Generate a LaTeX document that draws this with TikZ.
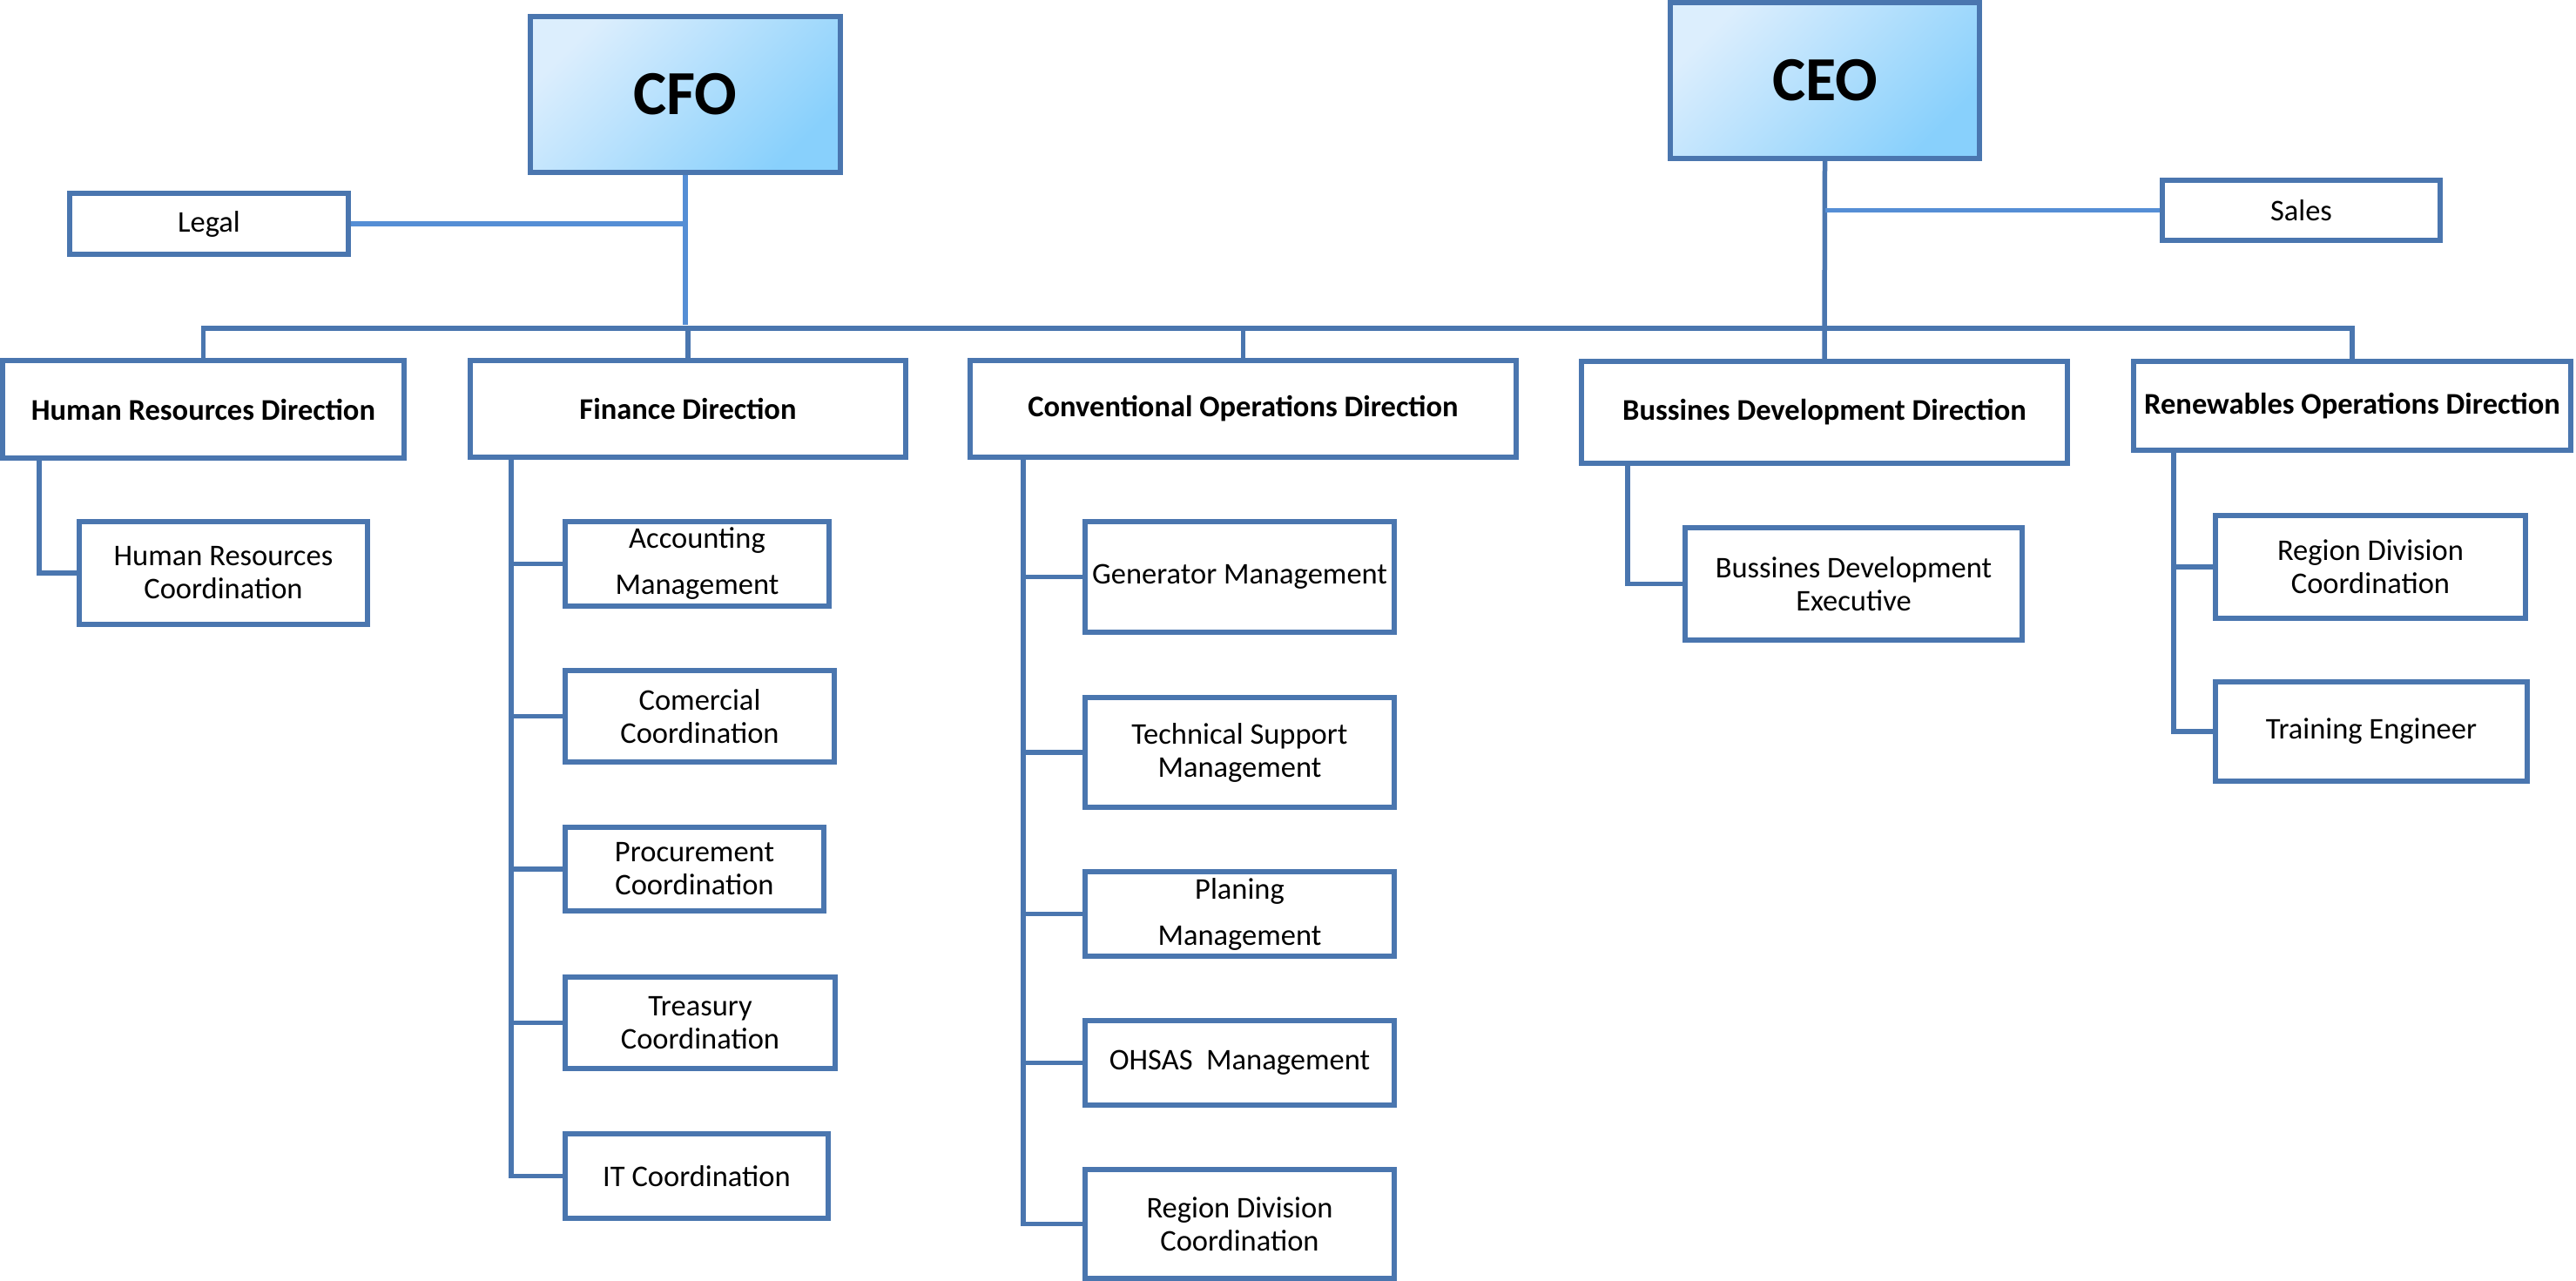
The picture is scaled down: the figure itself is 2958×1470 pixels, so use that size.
\documentclass[tikz,border=0pt]{standalone}
\usepackage{fontspec}
\setmainfont{Carlito}
\definecolor{bord}{HTML}{4A76AF}
\definecolor{lconn}{HTML}{558ED5}
\definecolor{gtop}{HTML}{DCEEFD}
\definecolor{gbot}{HTML}{88D0FC}
\tikzset{
  box/.style={draw=bord, line width=6pt, fill=white, inner sep=0pt, align=center,
    font=\fontsize{34.5}{38}\selectfont},
  dbox/.style={box, font=\fontsize{34.5}{38}\selectfont\bfseries},
  topbox/.style={draw=bord, line width=6pt, inner sep=0pt, align=center,
    left color=gtop, right color=gbot, shading angle=45,
    font=\fontsize{72}{80}\selectfont\bfseries},
  conn/.style={draw=bord, line width=5.5pt},
  lconnst/.style={draw=lconn, line width=5.5pt}
}
\begin{document}
\begin{tikzpicture}[x=1pt,y=-1pt]
\useasboundingbox[fill=white] (0,0) rectangle (2958,1470);
% top level
\node[topbox, minimum width=356pt, minimum height=179pt] (cfo) at (787,108.5) {CFO};
\node[topbox, minimum width=355pt, minimum height=179pt] (ceo) at (2095.5,92) {CEO};
\node[box, minimum width=320pt, minimum height=70pt] (legal) at (240,257) {Legal};
\node[box, minimum width=319pt, minimum height=69pt] (sales) at (2642.5,241.5) {Sales};
% directions
\node[dbox, minimum width=461pt, minimum height=112pt] (hr) at (233.5,470) {Human Resources Direction};
\node[dbox, minimum width=500pt, minimum height=111pt] (fin) at (790,469.5) {Finance Direction};
\node[dbox, minimum width=627pt, minimum height=111pt] (conv) at (1427.5,469.5) {Conventional Operations Direction};
\node[dbox, minimum width=558pt, minimum height=117pt] (bdd) at (2095,473.5) {Bussines Development Direction};
\node[dbox, minimum width=502pt, minimum height=102pt] (ren) at (2701,466) {Renewables Operations Direction};
% HR child
\node[box, minimum width=331pt, minimum height=118pt] (hrc) at (256.5,658) {Human Resources\\Coordination};
% finance children
\node[box, minimum width=303pt, minimum height=97pt] (acc) at (800.5,647.5) {Accounting\\[15pt]Management};
\node[box, minimum width=309pt, minimum height=105pt] (com) at (803.5,822.5) {Comercial\\Coordination};
\node[box, minimum width=297pt, minimum height=96pt] (pro) at (797.5,998) {Procurement\\Coordination};
\node[box, minimum width=310pt, minimum height=105pt] (tre) at (804,1174.5) {Treasury\\Coordination};
\node[box, minimum width=302pt, minimum height=97pt] (itc) at (800,1350.5) {IT Coordination};
% conventional children
\node[box, minimum width=355pt, minimum height=127pt] (gen) at (1423.5,662.5) {Generator Management};
\node[box, minimum width=355pt, minimum height=126pt] (tech) at (1423.5,864) {Technical Support\\Management};
\node[box, minimum width=355pt, minimum height=97pt] (plan) at (1423.5,1049.5) {Planing\\[15pt]Management};
\node[box, minimum width=355pt, minimum height=97pt] (ohs) at (1423.5,1220.5) {OHSAS~~Management};
\node[box, minimum width=355pt, minimum height=125pt] (rdc) at (1423.5,1405.5) {Region Division\\Coordination};
% business development child
\node[box, minimum width=387pt, minimum height=129pt] (bde) at (2128.5,670.5) {Bussines Development\\Executive};
% renewables children
\node[box, minimum width=356pt, minimum height=118pt] (rdr) at (2722,651) {Region Division\\Coordination};
\node[box, minimum width=358pt, minimum height=114pt] (trn) at (2723,840) {Training Engineer};
% connectors: top
\coordinate (bar) at (0,377);
\draw[conn] (hr.north) -- (hr.north |- bar) -- (ren.north |- bar) -- (ren.north);
\draw[conn] (fin.north) -- (fin.north |- bar);
\draw[conn] (conv.north) -- (conv.north |- bar);
\draw[conn] (ceo.south) -- (bdd.north);
\draw[lconnst] (cfo.south) -- ([yshift=4pt]cfo.south |- bar);
\draw[lconnst] (legal.east) -- (legal.east -| cfo.south);
\draw[lconnst] (sales.west) -- (sales.west -| ceo.south);
% HR
\coordinate (hrt) at ([xshift=45pt]hr.south west);
\draw[conn] (hrt) |- (hrc.west);
% finance
\coordinate (ft) at ([xshift=50pt]fin.south west);
\draw[conn] (ft) |- (itc.west);
\foreach \n in {acc,com,pro,tre} \draw[conn] (\n.west) -- (\n.west -| ft);
% conventional
\coordinate (ct) at ([xshift=64pt]conv.south west);
\draw[conn] (ct) |- (rdc.west);
\foreach \n in {gen,tech,plan,ohs} \draw[conn] (\n.west) -- (\n.west -| ct);
% business development
\coordinate (bt) at ([xshift=56pt]bdd.south west);
\draw[conn] (bt) |- (bde.west);
% renewables
\coordinate (rt) at ([xshift=49pt]ren.south west);
\draw[conn] (rt) |- (trn.west);
\draw[conn] (rdr.west) -- (rdr.west -| rt);
\end{tikzpicture}
\end{document}
